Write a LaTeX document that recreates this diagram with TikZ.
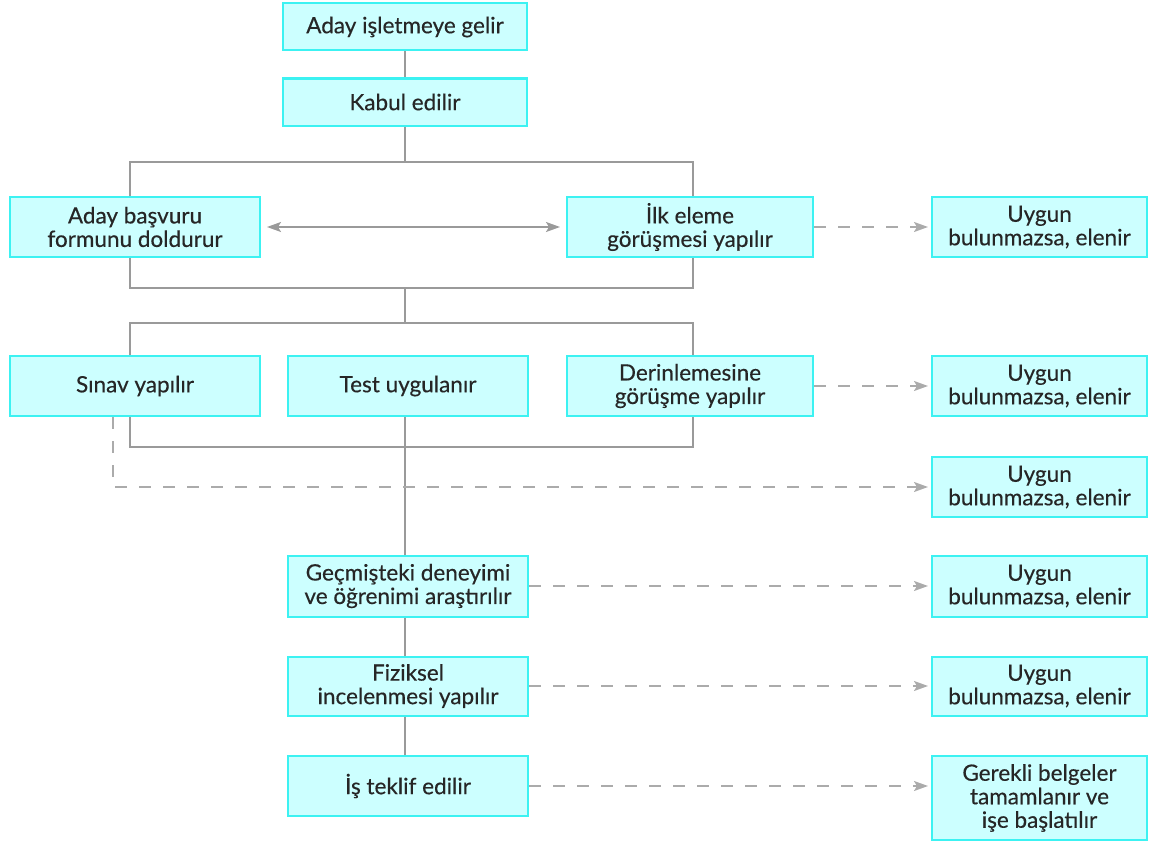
\documentclass[tikz,border=0pt]{standalone}
\usepackage{fontspec}
\setmainfont{Lato}
\newfontfamily\boxfont{Lato}[FakeBold=0.35]
\usetikzlibrary{arrows.meta}
\definecolor{boxfill}{HTML}{CCFFFF}
\definecolor{boxdraw}{HTML}{3CF2F2}
\definecolor{linegray}{HTML}{9A9A9A}
\definecolor{dashgray}{HTML}{ABABAB}
\definecolor{txt}{HTML}{262626}
\begin{document}
\begin{tikzpicture}[x=1pt,y=-1pt,
  box/.style={draw=boxdraw, fill=boxfill, line width=2pt, inner sep=0pt, align=center,
    text=txt, font=\boxfont\fontsize{22.5}{23.5}\selectfont},
  conn/.style={draw=linegray, line width=1.8pt},
  dconn/.style={draw=dashgray, line width=1.8pt, dash pattern=on 12pt off 12pt,
    -{Stealth[length=14pt,width=10pt,inset=3pt]}, shorten >=3pt},
  dbl/.style={draw=linegray, line width=1.5pt,
    {Stealth[length=14pt,width=10pt,inset=3pt]}-{Stealth[length=14pt,width=10pt,inset=3pt]},
    shorten >=6pt, shorten <=6pt}
]
\useasboundingbox (0,0) rectangle (1151,843);

% main column
\node[box, minimum width=244pt, minimum height=47pt] (n1) at (405,27) {Aday işletmeye gelir};
\node[box, minimum width=244pt, minimum height=47pt] (n2) at (405,102) {Kabul edilir};
\node[box, minimum width=250pt, minimum height=60pt] (n3) at (135,227) {Aday başvuru\\formunu doldurur};
\node[box, minimum width=246pt, minimum height=60pt] (n4) at (690,227) {İlk eleme\\görüşmesi yapılır};
\node[box, minimum width=250pt, minimum height=60pt] (n5) at (135,386) {Sınav yapılır};
\node[box, minimum width=240pt, minimum height=60pt] (n6) at (408,386) {Test uygulanır};
\node[box, minimum width=246pt, minimum height=60pt] (n7) at (690,386) {Derinlemesine\\görüşme yapılır};
\node[box, minimum width=240pt, minimum height=61pt] (n8) at (408,586) {Geçmişteki deneyimi\\ve öğrenimi araştırılır};
\node[box, minimum width=240pt, minimum height=59pt] (n9) at (408,686) {Fiziksel\\incelenmesi yapılır};
\node[box, minimum width=240pt, minimum height=60pt] (n10) at (408,786) {İş teklif edilir};

% right column
\node[box, minimum width=215pt, minimum height=60pt] (r1) at (1039.5,227) {Uygun\\bulunmazsa, elenir};
\node[box, minimum width=215pt, minimum height=60pt] (r2) at (1039.5,386) {Uygun\\bulunmazsa, elenir};
\node[box, minimum width=215pt, minimum height=60pt] (r3) at (1039.5,487) {Uygun\\bulunmazsa, elenir};
\node[box, minimum width=215pt, minimum height=61pt] (r4) at (1039.5,586) {Uygun\\bulunmazsa, elenir};
\node[box, minimum width=215pt, minimum height=59pt] (r5) at (1039.5,686) {Uygun\\bulunmazsa, elenir};
\node[box, minimum width=215pt, minimum height=84pt] (r6) at (1039.5,798) {Gerekli belgeler\\tamamlanır ve\\işe başlatılır};

% junction coordinates
\coordinate (vx) at (405,0);
\coordinate (a) at (405,162);
\coordinate (al) at (130,162);
\coordinate (ar) at (693,162);
\coordinate (b) at (405,288);
\coordinate (bl) at (130,288);
\coordinate (br) at (693,288);
\coordinate (c) at (405,323);
\coordinate (cl) at (130,323);
\coordinate (cr) at (693,323);
\coordinate (dl) at (130,447);
\coordinate (dr) at (693,447);
\coordinate (e) at (113,487);

% solid connectors
\draw[conn] (n1.south -| vx) -- (n2.north -| vx);
\draw[conn] (n2.south -| vx) -- (a);
\draw[conn] (n3.north -| al) -- (al) -- (ar) -- (n4.north -| ar);
\draw[conn] (n3.south -| bl) -- (bl) -- (br) -- (n4.south -| br);
\draw[conn] (b) -- (c);
\draw[conn] (n5.north -| cl) -- (cl) -- (cr) -- (n7.north -| cr);
\draw[conn] (n5.south -| dl) -- (dl) -- (dr) -- (n7.south -| dr);
\draw[conn] (n6.south -| vx) -- (n8.north -| vx);
\draw[conn] (n8.south -| vx) -- (n9.north -| vx);
\draw[conn] (n9.south -| vx) -- (n10.north -| vx);

% double arrow
\draw[dbl] (n3.east) -- (n4.west);

% dashed arrows
\draw[dconn] (n4.east) -- (r1.west);
\draw[dconn] (n7.east) -- (r2.west);
\draw[dconn] (n5.south -| e) -- (e) -- (r3.west);
\draw[dconn] (n8.east) -- (r4.west);
\draw[dconn] (n9.east) -- (r5.west);
\draw[dconn] (n10.east) -- (n10.east -| r6.west);
\end{tikzpicture}
\end{document}
